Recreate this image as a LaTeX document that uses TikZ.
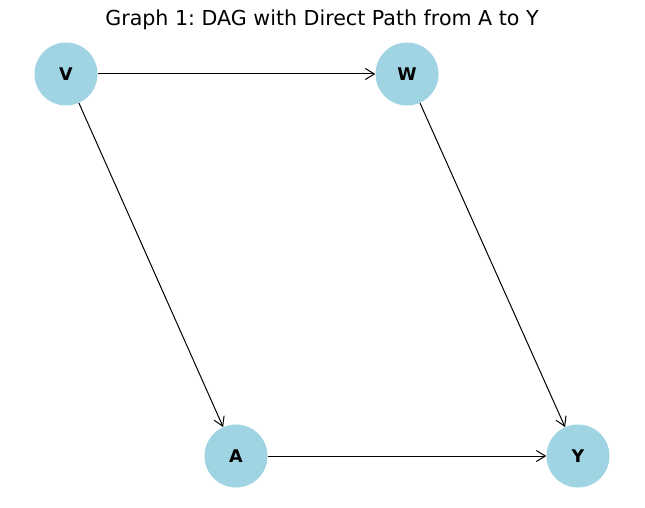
\documentclass[tikz,border=0pt]{standalone}
\usepackage{fontspec}
\setmainfont{DejaVu Sans}
\usepackage{xcolor}
\usetikzlibrary{arrows.meta}
\frenchspacing
\definecolor{nodeblue}{HTML}{A0D4E2}
\tikzset{>={Straight Barb[length=9pt,width=11pt]}}
\tikzset{
  var/.style={circle, fill=nodeblue, minimum size=63pt, inner sep=0pt,
    font=\fontsize{17.5}{18}\selectfont\bfseries},
  edge/.style={->, line width=1pt, black}
}

\begin{document}
\begin{tikzpicture}[x=1pt, y=-1pt]
  \useasboundingbox (0,0) rectangle (645,508);

  % Title
  \node[font=\fontsize{20.6}{21}\selectfont] (title) at (322,20) {Graph 1: DAG with Direct Path from A to Y};

  % Variables
  \node[var] (V) at (66,74) {V};
  \node[var] (W) at (407,74) {W};
  \node[var] (A) at (236,456) {A};
  \node[var] (Y) at (578,456) {Y};

  % Edges
  \foreach \s/\t in {V/W, V/A, W/Y, A/Y}{
    \draw[edge] (\s) -- (\t);
  }
\end{tikzpicture}
\end{document}
